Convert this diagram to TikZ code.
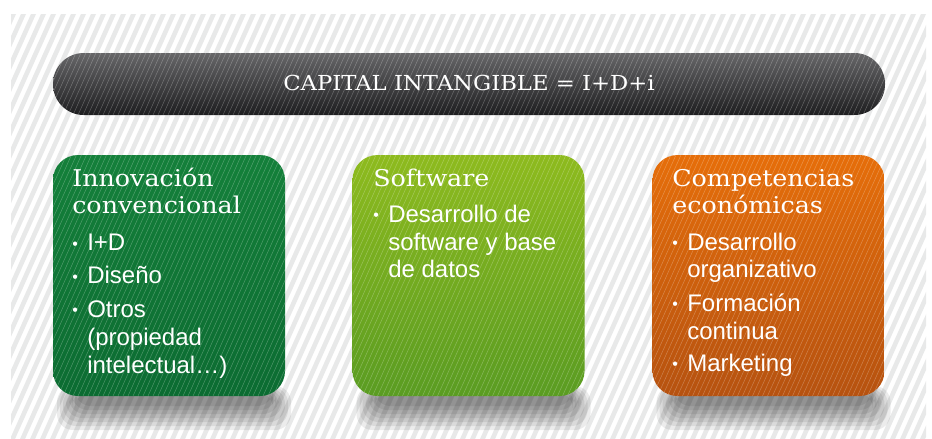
\documentclass[tikz,border=0pt]{standalone}
\usepackage{fontspec}
\setmainfont{Liberation Sans}
\newfontfamily\slabfont[FakeStretch=1.1]{DejaVu Serif}
\newcommand{\bul}{\llap{\fontsize{12}{12}\selectfont\raisebox{1pt}{\textbullet}\hspace{7pt}}}
\definecolor{stripegray}{RGB}{232,233,233}
\begin{document}
\begin{tikzpicture}[x=0.75pt, y=-0.75pt,
    hatch/.style={path picture={\foreach \h in {-150,-145,...,850} \draw[white, opacity=.28, line width=.35pt] ([shift={(\h,0)}]path picture bounding box.south west) -- ++(135,-300);}},
    card/.style={hatch, rounded corners=18.75pt, minimum width=174pt, minimum height=180.75pt, inner sep=0pt},
    shadow/.style={black, opacity=.075, rounded corners=12pt},
    head/.style={anchor=base west, inner sep=0pt, text=white, font=\slabfont\fontsize{17.3}{17.3}\selectfont},
    item/.style={anchor=base west, inner sep=0pt, text=white, font=\fontsize{18}{18}\selectfont}]
    \useasboundingbox (0,0) rectangle (932,439);
    \fill[white] (0,0) rectangle (932,439);
    % striped background
    \begin{scope}
        \clip (11,14) rectangle (926,439);
        \foreach \s in {-200,-190,...,930}
            \fill[stripegray] (\s,439) -- ++(5,0) -- ++(191,-425) -- ++(-5,0) -- cycle;
    \end{scope}
    % top bar
    \node[hatch, rounded corners=23pt, minimum width=624pt, minimum height=46.5pt, inner sep=0pt,
        top color={rgb,255:red,102;green,102;blue,104}, bottom color={rgb,255:red,30;green,30;blue,32}] (capital) at (469,84) {};
    \node[anchor=base, inner sep=0pt, text=white, font=\slabfont\fontsize{15.5}{15.5}\selectfont] (capitalT) at (469,90) {CAPITAL INTANGIBLE = I+D+i};
    % soft shadows under the boxes
    \foreach \x in {169,468.5,768.5}
        \foreach \k in {0,...,6}
            \fill[shadow] (\x-112+3*\k,386+\k) rectangle (\x+122-3*\k,430-4*\k);
    % three boxes
    \node[card, top color={rgb,255:red,20;green,128;blue,58}, bottom color={rgb,255:red,12;green,108;blue,50}] (innov) at (169,275.5) {};
    \node[card, top color={rgb,255:red,142;green,187;blue,30}, bottom color={rgb,255:red,90;green,156;blue,34}] (soft) at (468.5,275.5) {};
    \node[card, top color={rgb,255:red,230;green,110;blue,10}, bottom color={rgb,255:red,182;green,82;blue,16}] (comp) at (768.5,275.5) {};
    % innovacion
    \node[head] (innovH1) at (72,186) {Innovación};
    \node[head] (innovH2) at (72,213.5) {convencional};
    \node[item] (innovA) at (87,250.5) {\bul I+D};
    \node[item] (innovB) at (87,283.5) {\bul Diseño};
    \node[item] (innovC1) at (87,317) {\bul Otros};
    \node[item] (innovC2) at (87,345) {(propiedad};
    \node[item] (innovC3) at (87,373) {intelectual…)};
    % software
    \node[head] (softH) at (373,186) {Software};
    \node[item] (softA1) at (388,222) {\bul Desarrollo de};
    \node[item] (softA2) at (388,250) {software y base};
    \node[item] (softA3) at (388,277.5) {de datos};
    % competencias
    \node[head] (compH1) at (672,186) {Competencias};
    \node[head] (compH2) at (672,213.5) {económicas};
    \node[item] (compA1) at (687,250) {\bul Desarrollo};
    \node[item] (compA2) at (687,277.5) {organizativo};
    \node[item] (compB1) at (687,311) {\bul Formación};
    \node[item] (compB2) at (687,339) {continua};
    \node[item] (compC) at (687,371) {\bul Marketing};
\end{tikzpicture}
\end{document}
